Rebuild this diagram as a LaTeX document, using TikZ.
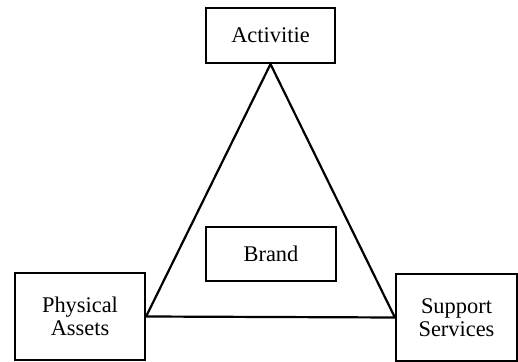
\documentclass[tikz,border=0pt]{standalone}
\usepackage{fontspec}
\setmainfont{Liberation Serif}
\newfontfamily\boxfont{Liberation Serif}

\begin{document}
\begin{tikzpicture}[
    x=0.5pt, y=-0.5pt,
    box/.style={draw, line width=1.1pt, inner sep=0pt, align=center,
    font=\boxfont\fontsize{11.2}{11.2}\selectfont},
    important line/.style={line width=1.1pt, line join=miter},
    every node/.style={color=black}
    ]

\useasboundingbox (0,0) rectangle (518,362);

% boxes
\node[box, minimum width=64.5pt, minimum height=27.5pt] (act) at (270.5,35.5)
	{Activitie};
\node[box, minimum width=65pt, minimum height=43.5pt] (phys) at (80,316.5)
	{Physical\\Assets};
\node[box, minimum width=60.5pt, minimum height=43.5pt] (supp) at (456.5,317.5)
	{Support\\Services};
\node[box, minimum width=65pt, minimum height=27pt] (brand) at (271,254)
	{Brand};

% triangle
\draw[important line] (act.south) -- (phys.east) -- (supp.west) -- cycle;

\end{tikzpicture}
\end{document}
